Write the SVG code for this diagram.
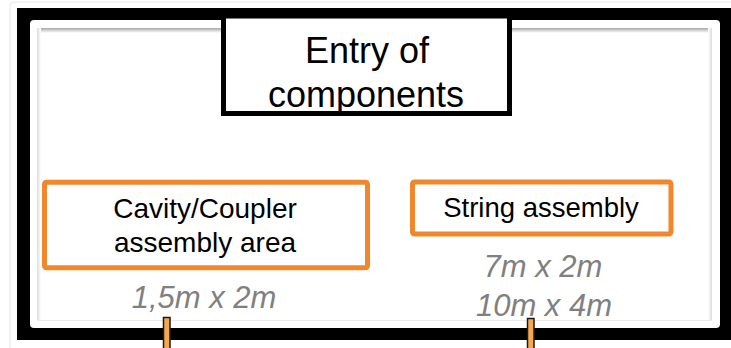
<svg xmlns="http://www.w3.org/2000/svg" width="731" height="348" viewBox="0 0 731 348">
<defs>
<style>
.lbl{font-family:"Liberation Sans",Arial,sans-serif;fill:#000;text-anchor:middle}
.dim{font-family:"Liberation Sans",Arial,sans-serif;font-style:italic;fill:#808080;text-anchor:middle;font-size:31px}
.obox{fill:#fff;stroke:#F0872C;stroke-width:5}
.stub{fill:#F6A84C;stroke:#1a1a1a;stroke-width:1.5}
</style>
<linearGradient id="topsh" x1="0" y1="0" x2="0" y2="1">
<stop offset="0" stop-color="#a8a8a8"/>
<stop offset="1" stop-color="#ffffff"/>
</linearGradient>
<linearGradient id="leftsh" x1="0" y1="0" x2="1" y2="0">
<stop offset="0" stop-color="#dcdcdc"/>
<stop offset="1" stop-color="#ffffff"/>
</linearGradient>
<linearGradient id="rightsh" x1="1" y1="0" x2="0" y2="0">
<stop offset="0" stop-color="#dcdcdc"/>
<stop offset="1" stop-color="#ffffff"/>
</linearGradient>
</defs>
<rect width="731" height="348" fill="#fff"/>
<g id="frame">
<rect x="10" y="2" width="740" height="360" rx="4" fill="#fff" stroke="#e6e6e6" stroke-width="1"/>
<rect x="17" y="8" width="730" height="332" fill="#000"/>
<rect x="30" y="20" width="690" height="308" rx="4" fill="#fff"/>
<rect x="37" y="28" width="675" height="293" fill="#fff"/>
<rect x="37" y="28" width="675" height="5" fill="url(#topsh)"/>
<rect x="37" y="28" width="4" height="293" fill="url(#leftsh)"/>
<rect x="708" y="28" width="4" height="293" fill="url(#rightsh)"/>
<line x1="37" y1="320.5" x2="712" y2="320.5" stroke="#ececec" stroke-width="1"/>
</g>
<g id="entry">
<rect x="223.5" y="16" width="286" height="97.5" fill="#fff" stroke="#000" stroke-width="5"/>
<text class="lbl" x="367" y="63" font-size="36">Entry of</text>
<text class="lbl" x="366" y="107" font-size="36">components</text>
</g>
<g id="cavity">
<rect class="obox" x="44.5" y="182.3" width="323" height="85.5" rx="2"/>
<text class="lbl" x="205" y="218" font-size="28">Cavity/Coupler</text>
<text class="lbl" x="205" y="252" font-size="28">assembly area</text>
</g>
<g id="string">
<rect class="obox" x="412.5" y="182" width="258.5" height="52" rx="2"/>
<text class="lbl" x="541" y="217" font-size="27.5">String assembly</text>
</g>
<g id="cavity-dim">
<text class="dim" x="204" y="308">1,5m x 2m</text>
</g>
<g id="string-dim">
<text class="dim" x="543" y="277">7m x 2m</text>
<text class="dim" x="544" y="316">10m x 4m</text>
</g>
<g id="connectors">
<rect class="stub" x="163.5" y="317.5" width="6.5" height="34"/>
<rect class="stub" x="527.5" y="318.5" width="6.5" height="34"/>
</g>
</svg>
